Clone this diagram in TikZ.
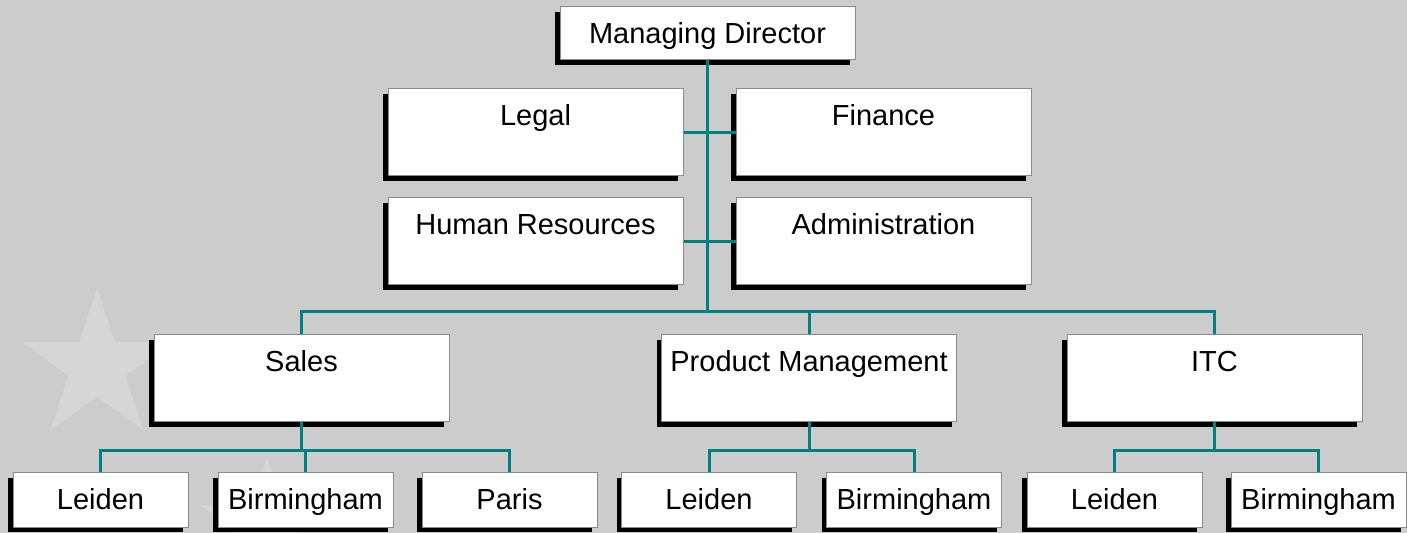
\documentclass[tikz,border=0pt]{standalone}
\usepackage{fontspec}
\setmainfont{Liberation Sans}
\usepackage{tikz}
\usetikzlibrary{positioning,shadows,shapes.geometric}
\definecolor{bgGray}{HTML}{CCCCCC}
\definecolor{starGray}{HTML}{D6D6D6}
\definecolor{boxBorder}{HTML}{8A8A8A}
\definecolor{orgLine}{HTML}{008080}
\tikzstyle{unitBox} = [shape = rectangle, draw = boxBorder, fill = white, line width = 0.5pt, inner sep = 0pt, minimum width = 147.5pt, text height = 18.3pt, text depth = 8.2pt, font = \fontsize{14.5pt}{17pt}\selectfont, drop shadow = {shadow xshift = -2.5pt, shadow yshift = -2.5pt, fill = black, opacity = 1}]
\tikzstyle{deptBox} = [unitBox, text depth = 25.2pt]
\tikzstyle{cityBox} = [unitBox, minimum width = 87.5pt, text depth = 8.7pt]
\tikzstyle{link} = [line width = 1.5pt, color = orgLine]
\tikzstyle{watermark} = [star, star points = 5, star point ratio = 2.6, fill = starGray, inner sep = 0pt]

\begin{document}
\begin{tikzpicture}[x=0.5pt, y=-0.5pt]
					\useasboundingbox (0,0) rectangle (1407,533);
					\fill[bgGray] (0,0) rectangle (1407,533);
					% faint stars behind the chart
					\node (star1) [watermark, minimum size = 78.5pt] at (97,366.5) {};
					\node (star2) [watermark, minimum size = 70pt] at (267,527) {};
					% top and staff
					\node (director) [unitBox] at (707.5,33.5) {Managing Director};
					\node (legal) [deptBox] at (535.5,132.5) {Legal};
					\node (finance) [deptBox, right = 26pt of legal] {Finance};
					\node (hr) [deptBox, below = 10.5pt of legal] {Human Resources};
					\node (admin) [deptBox, below = 10.5pt of finance] {Administration};
					% divisions
					\node (sales) [deptBox] at (301.5,378.5) {Sales};
					\node (product) [deptBox] at (809,378.5) {Product Management};
					\node (itc) [deptBox] at (1214.5,378.5) {ITC};
					% offices
					\node (salesLeiden) [cityBox] at (100.5,500) {Leiden};
					\node (salesBirmingham) [cityBox, right = 14.5pt of salesLeiden] {Birmingham};
					\node (salesParis) [cityBox, right = 14pt of salesBirmingham] {Paris};
					\node (productLeiden) [cityBox] at (709,500) {Leiden};
					\node (productBirmingham) [cityBox, right = 14.5pt of productLeiden] {Birmingham};
					\node (itcLeiden) [cityBox] at (1114.5,500) {Leiden};
					\node (itcBirmingham) [cityBox, right = 14pt of itcLeiden] {Birmingham};
					\draw[link] (legal.east) -- (finance.west);
					\draw[link] (hr.east) -- (admin.west);
					\foreach \division in {sales, product, itc}
						\draw[link] (\division.north) -- ++(0,-23) -| (director.south);
					\foreach \office in {salesLeiden, salesBirmingham, salesParis}
						\draw[link] (sales.south) -- ++(0,28) -| (\office.north);
					\foreach \office in {productLeiden, productBirmingham}
						\draw[link] (product.south) -- ++(0,28) -| (\office.north);
					\foreach \office in {itcLeiden, itcBirmingham}
						\draw[link] (itc.south) -- ++(0,28) -| (\office.north);
					\end{tikzpicture}
\end{document}
